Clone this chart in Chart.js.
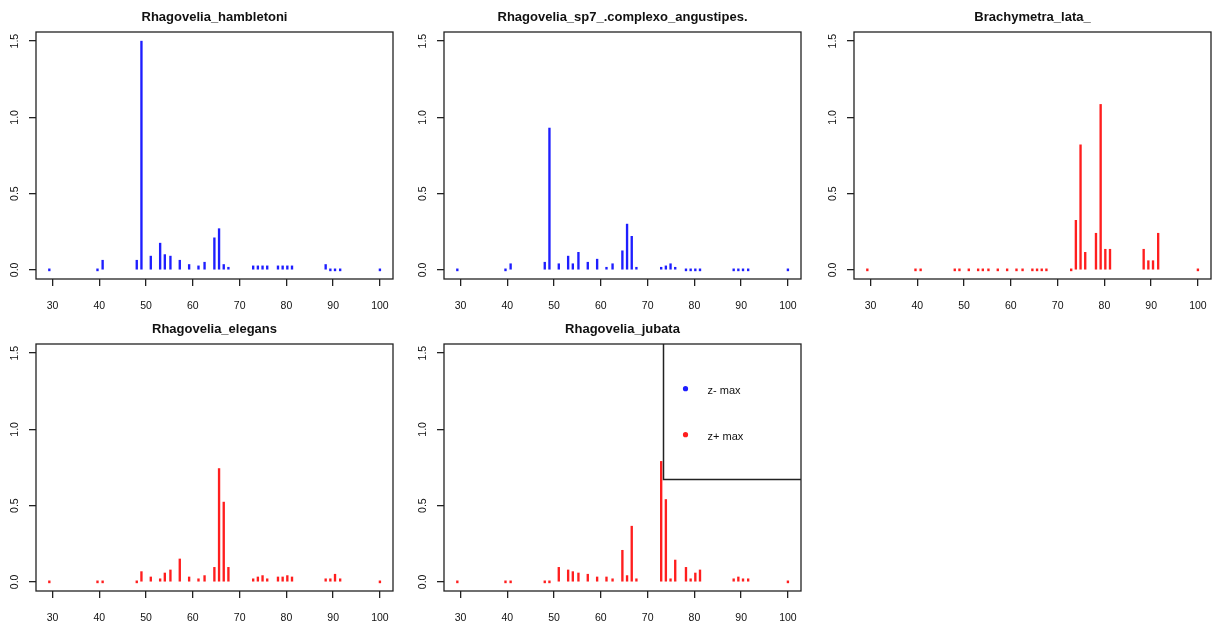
<!DOCTYPE html>
<html>
<head>
<meta charset="utf-8">
<script src="https://cdn.jsdelivr.net/npm/chart.js@4.4.1/dist/chart.umd.min.js"></script>
<style>
  html, body { margin: 0; padding: 0; background: #fff; overflow: hidden; }
  body { width: 1213px; height: 624px; position: relative; }
  .panel { position: absolute; width: 395px; height: 309px; }
</style>
</head>
<body>
<div class="panel" style="left:0px;top:0px"><canvas id="c1"></canvas></div>
<div class="panel" style="left:408px;top:0px"><canvas id="c2"></canvas></div>
<div class="panel" style="left:818px;top:0px"><canvas id="c3"></canvas></div>
<div class="panel" style="left:0px;top:312px"><canvas id="c4"></canvas></div>
<div class="panel" style="left:408px;top:312px"><canvas id="c5"></canvas></div>
<script>
// candidate threshold positions (x axis)
const thresholds = [29.3, 39.6, 40.7, 48, 49, 51, 53, 54, 55.2, 57.2, 59.2, 61.2, 62.5, 64.6, 65.6,
    66.6, 67.6, 72.9, 73.9, 74.9, 75.9, 78.2, 79.2, 80.2, 81.2, 88.4, 89.4, 90.4, 91.5, 100];

const hambletoni = [0, 0, 0.063, 0.063, 1.5, 0.09, 0.175, 0.1, 0.09, 0.063, 0.035, 0.026, 0.05, 0.21, 0.27,
    0.035, 0.017, 0.026, 0.026, 0.026, 0.026, 0.026, 0.026, 0.026, 0.026, 0.035, 0, 0, 0, 0];
const sp7 = [0, 0, 0.04, 0.05, 0.93, 0.04, 0.09, 0.04, 0.115, 0.05, 0.07, 0.017, 0.04, 0.125, 0.3,
    0.22, 0.017, 0.017, 0.026, 0.04, 0.017, 0, 0, 0, 0, 0, 0, 0, 0, 0];
const lata = [0, 0, 0, 0, 0, 0, 0, 0, 0, 0, 0, 0, 0, 0, 0,
    0, 0, 0, 0.325, 0.82, 0.115, 0.24, 1.085, 0.135, 0.135, 0.135, 0.06, 0.06, 0.24, 0];
const elegans = [0, 0, 0, 0, 0.067, 0.032, 0.02, 0.058, 0.078, 0.15, 0.032, 0.02, 0.041, 0.095, 0.743,
    0.523, 0.095, 0.02, 0.032, 0.041, 0.02, 0.032, 0.032, 0.041, 0.032, 0.02, 0.02, 0.05, 0.02, 0];
const jubata = [0, 0, 0, 0, 0, 0.095, 0.078, 0.067, 0.058, 0.05, 0.032, 0.032, 0.02, 0.207, 0.041,
    0.365, 0.02, 0.79, 0.54, 0.02, 0.143, 0.095, 0.02, 0.058, 0.078, 0.02, 0.032, 0.02, 0.02, 0];

const BLUE = "rgb(30, 30, 255)";
const RED = "rgb(255, 30, 30)";
const FONT = "Liberation Sans, Arial, sans-serif";

// R style box + rotated y labels (+ optional legend)
const rStyle = {
    id: "rStyle",
    afterDraw(chart, args, opts) {
        const ctx = chart.ctx;
        const a = chart.chartArea;
        ctx.save();
        ctx.strokeStyle = "#222";
        ctx.lineWidth = 1.3;
        ctx.strokeRect(a.left, a.top, a.right - a.left, a.bottom - a.top);

        ctx.fillStyle = "#111";
        ctx.font = "10.5px " + FONT;
        ctx.textAlign = "center";
        ctx.textBaseline = "middle";
        const ys = chart.scales.y;
        ys.ticks.forEach((t) => {
            ctx.save();
            ctx.translate(a.left - 20.5, ys.getPixelForValue(t.value));
            ctx.rotate(-Math.PI / 2);
            ctx.fillText(t.value.toFixed(1), 0, 0);
            ctx.restore();
        });

        if (opts.legend) {
            const lx = a.right - 137.5;
            const by = a.top + 135.5;
            ctx.lineWidth = 1.5;
            ctx.beginPath();
            ctx.moveTo(lx, a.top);
            ctx.lineTo(lx, by);
            ctx.lineTo(a.right, by);
            ctx.stroke();
            const items = [["z- max", BLUE, 44.7], ["z+ max", RED, 90.7]];
            ctx.textAlign = "left";
            ctx.font = "11px " + FONT;
            items.forEach(([txt, col, dy]) => {
                ctx.fillStyle = col;
                ctx.beginPath();
                ctx.arc(lx + 22, a.top + dy, 2.6, 0, Math.PI * 2);
                ctx.fill();
                ctx.fillStyle = "#111";
                ctx.fillText(txt, lx + 44, a.top + dy + 2);
            });
        }
        ctx.restore();
    },
};

function panel(id, title, values, color, legend) {
    new Chart(document.getElementById(id), {
        type: "bar",
        data: {
            datasets: [{
                data: thresholds.map((x, i) => ({ x: x, y: values[i] })),
                backgroundColor: color,
                barThickness: 1.7,
                minBarLength: 2,
            }],
        },
        options: {
            responsive: true,
            maintainAspectRatio: false,
            animation: false,
            layout: { padding: { left: 0, right: 2, top: 0, bottom: 0 } },
            plugins: {
                legend: { display: false },
                tooltip: { enabled: false },
                title: {
                    display: true,
                    text: title,
                    fullSize: false,
                    color: "#111",
                    font: { family: FONT, size: 13, weight: "bold", lineHeight: 1.2 },
                    padding: { top: 10, bottom: 6.4 },
                },
                rStyle: { legend: legend },
            },
            scales: {
                x: {
                    type: "linear",
                    min: 26.45,
                    max: 102.8,
                    offset: false,
                    grid: { display: true, offset: false, drawOnChartArea: false, drawTicks: true, tickLength: 7, color: "#222", lineWidth: 1.3 },
                    border: { display: false },
                    ticks: { stepSize: 10, includeBounds: false, autoSkip: false, maxRotation: 0, padding: 14, color: "#111", font: { family: FONT, size: 10.5 } },
                    afterFit: (s) => { s.height = 30; s.paddingLeft = 0; s.paddingRight = 0; },
                },
                y: {
                    min: -0.06,
                    max: 1.56,
                    grid: { display: true, drawOnChartArea: false, drawTicks: true, tickLength: 7, color: "#222", lineWidth: 1.3 },
                    border: { display: false },
                    ticks: { stepSize: 0.5, includeBounds: false, display: false },
                    afterFit: (s) => { s.width = 36; },
                },
            },
        },
        plugins: [rStyle],
    });
}

panel("c1", "Rhagovelia_hambletoni", hambletoni, BLUE, false);
panel("c2", "Rhagovelia_sp7_.complexo_angustipes.", sp7, BLUE, false);
panel("c3", "Brachymetra_lata_", lata, RED, false);
panel("c4", "Rhagovelia_elegans", elegans, RED, false);
panel("c5", "Rhagovelia_jubata", jubata, RED, true);
</script>
</body>
</html>
